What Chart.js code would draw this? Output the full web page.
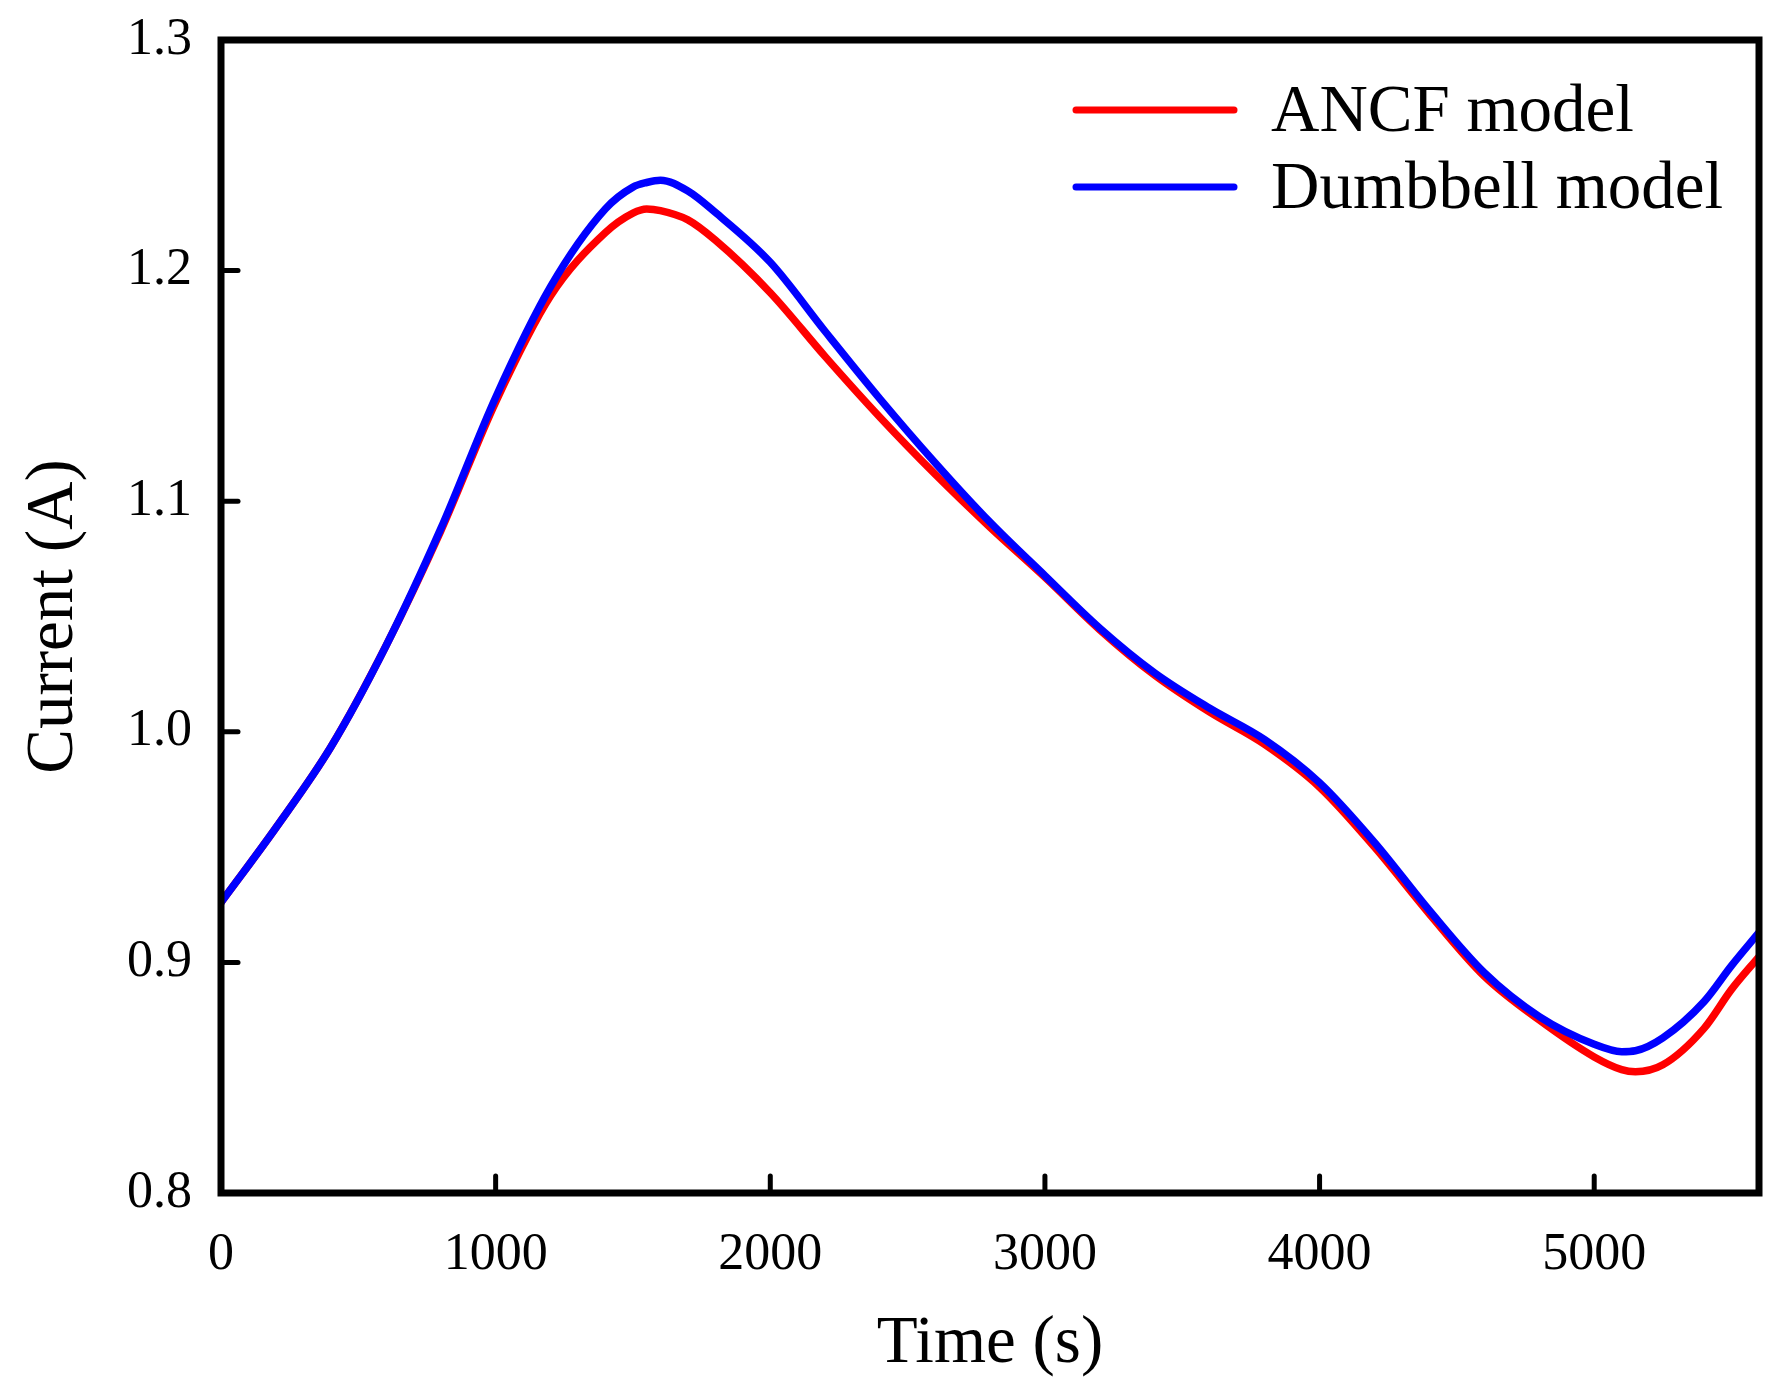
<!DOCTYPE html>
<html>
<head>
<meta charset="utf-8">
<script src="https://cdn.jsdelivr.net/npm/chart.js@4.4.1/dist/chart.umd.min.js"></script>
<style>
  html, body { margin: 0; padding: 0; background: #fff; }
  #wrap { width: 1779px; height: 1386px; }
</style>
</head>
<body>
<div id="wrap"><canvas id="myChart" width="1779" height="1386"></canvas></div>
<script>
// time axis (s) and the two current curves (A)
var timeS    = [0, 200, 400, 600, 800, 1000, 1200, 1400, 1500, 1550, 1600, 1700, 1800, 2000, 2200, 2400, 2600, 2800,
                3000, 3200, 3400, 3600, 3800, 4000, 4200, 4400, 4600, 4800, 5000, 5100, 5150, 5250, 5400, 5500, 5600];
var ancfA    = [0.926, 0.9584, 0.9934, 1.0371, 1.087, 1.143, 1.189, 1.2165, 1.2249, 1.2267, 1.2260, 1.2220, 1.2132, 1.1904, 1.1627, 1.1363, 1.1117, 1.0887,
                1.067, 1.0442, 1.0245, 1.0085, 0.9945, 0.976, 0.950, 0.921, 0.894, 0.875, 0.859, 0.8535, 0.8526, 0.8556, 0.8714, 0.8883, 0.9025];
var dumbbellA = [0.926, 0.9584, 0.9934, 1.0371, 1.088, 1.145, 1.193, 1.2268, 1.2362, 1.2382, 1.2392, 1.2345, 1.2252, 1.2036, 1.1736, 1.1443, 1.1167, 1.0909,
                1.0677, 1.0449, 1.0255, 1.0102, 0.9966, 0.9779, 0.952, 0.9225, 0.8955, 0.8765, 0.8645, 0.8613, 0.8617, 0.8673, 0.883, 0.8986, 0.913];
var xTicks = [0, 1000, 2000, 3000, 4000, 5000];
var yTicks = [0.8, 0.9, 1.0, 1.1, 1.2, 1.3];
var seriesNames = ['ANCF model', 'Dumbbell model'];

var serif = "'Liberation Serif', 'Times New Roman', serif";

function toPoints(ys) {
    var pts = [];
    for (var i = 0; i < timeS.length; i++) {
        pts.push({x: timeS[i], y: ys[i]});
    }
    return pts;
}

// frame box + inward tick marks
var framePlugin = {
    id: 'frame',
    afterDatasetsDraw: function (chart) {
        var c = chart.ctx, a = chart.chartArea;
        var xs = chart.scales.x, ys = chart.scales.y;
        c.save();
        c.strokeStyle = '#000';
        c.lineCap = 'round';
        c.lineWidth = 5;
        xs.ticks.forEach(function (t) {
            var px = xs.getPixelForValue(t.value);
            c.beginPath();
            c.moveTo(px, a.bottom);
            c.lineTo(px, a.bottom - 17);
            c.stroke();
        });
        ys.ticks.forEach(function (t) {
            var py = ys.getPixelForValue(t.value);
            c.beginPath();
            c.moveTo(a.left, py);
            c.lineTo(a.left + 17, py);
            c.stroke();
        });
        c.lineCap = 'butt';
        c.lineJoin = 'miter';
        c.lineWidth = 7;
        c.strokeRect(a.left, a.top, a.right - a.left, a.bottom - a.top);
        c.restore();
    }
};

// legend drawn in the upper right of the plot
var legendPlugin = {
    id: 'innerLegend',
    afterDraw: function (chart) {
        var c = chart.ctx;
        c.save();
        c.font = '67px ' + serif;
        c.fillStyle = '#000';
        c.textBaseline = 'alphabetic';
        c.lineCap = 'round';
        c.lineWidth = 7;
        chart.data.datasets.forEach(function (ds, i) {
            var ly = 110 + i * 77;
            c.strokeStyle = ds.borderColor;
            c.beginPath();
            c.moveTo(1076, ly);
            c.lineTo(1234, ly);
            c.stroke();
            c.fillText(ds.label, 1271, ly + 21);
        });
        c.restore();
    }
};

var ctx = document.getElementById('myChart').getContext('2d');
var myChart = new Chart(ctx, {
    type: 'line',
    data: {
        datasets: [{
            label: seriesNames[0],
            data: toPoints(ancfA),
            borderColor: '#ff0000',
            borderWidth: 7.5,
            pointRadius: 0,
            fill: false,
            cubicInterpolationMode: 'monotone',
            order: 1
        }, {
            label: seriesNames[1],
            data: toPoints(dumbbellA),
            borderColor: '#0000ff',
            borderWidth: 7.5,
            pointRadius: 0,
            fill: false,
            cubicInterpolationMode: 'monotone',
            order: 0
        }]
    },
    options: {
        responsive: false,
        animation: false,
        devicePixelRatio: 1,
        layout: {padding: {left: 0, top: 40, right: 20, bottom: 0}},
        plugins: {legend: {display: false}, tooltip: {enabled: false}},
        scales: {
            x: {
                type: 'linear',
                min: 0,
                max: 5600,
                grid: {display: false, drawTicks: false},
                border: {display: false},
                afterBuildTicks: function (scale) {
                    scale.ticks = xTicks.map(function (v) { return {value: v}; });
                },
                afterFit: function (scale) {
                    scale.height = 193;
                    scale.paddingLeft = 0;
                    scale.paddingRight = 0;
                },
                ticks: {
                    color: '#000',
                    padding: 31,
                    maxRotation: 0,
                    font: {family: serif, size: 52},
                    callback: function (v) { return String(v); }
                },
                title: {
                    display: true,
                    text: 'Time (s)',
                    color: '#000',
                    padding: {top: 0, bottom: 1},
                    font: {family: serif, size: 67}
                }
            },
            y: {
                type: 'linear',
                min: 0.8,
                max: 1.3,
                grid: {display: false, drawTicks: false},
                border: {display: false},
                afterBuildTicks: function (scale) {
                    scale.ticks = yTicks.map(function (v) { return {value: v}; });
                },
                afterFit: function (scale) {
                    scale.width = 221;
                    scale.paddingTop = 0;
                    scale.paddingBottom = 0;
                },
                ticks: {
                    color: '#000',
                    padding: 29,
                    font: {family: serif, size: 52},
                    callback: function (v) { return v.toFixed(1); }
                },
                title: {
                    display: true,
                    text: 'Current (A)',
                    color: '#000',
                    padding: {top: 14, bottom: 0},
                    font: {family: serif, size: 67}
                }
            }
        }
    },
    plugins: [framePlugin, legendPlugin]
});
</script>
</body>
</html>
